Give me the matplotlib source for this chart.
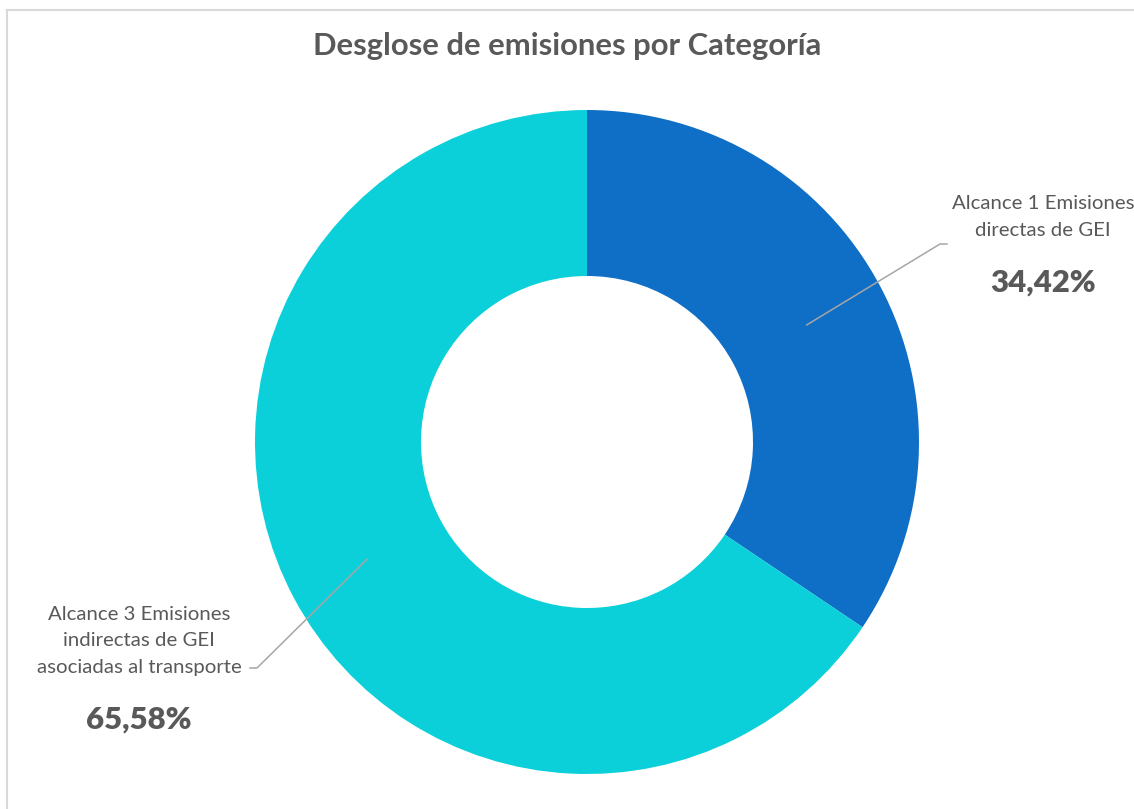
import matplotlib.pyplot as plt
import numpy as np
from matplotlib.lines import Line2D

plt.rcParams["font.family"] = ["Lato", "DejaVu Sans"]

# data
categorias = [
    "Alcance 1 Emisiones\ndirectas de GEI",
    "Alcance 3 Emisiones\nindirectas de GEI\nasociadas al transporte",
]
porcentajes = [34.42, 65.58]
colores = ["#0F6FC6", "#0BD0D9"]

W, H = 1134, 809
fig = plt.figure(figsize=(W / 100, H / 100), dpi=100)
ax = fig.add_axes([0, 0, 1, 1])

cx, cy = 587, H - 442
R = 332
wedges, _ = ax.pie(
    porcentajes,
    colors=colores,
    startangle=90,
    counterclock=False,
    radius=R,
    center=(cx, cy),
    wedgeprops=dict(width=R / 2, linewidth=0),
    frame=True,
)
ax.set_xlim(0, W)
ax.set_ylim(0, H)
ax.set_aspect("equal")
ax.axis("off")

gris = "#595959"
fig.text(0.5, 1 - 46 / H, "Desglose de emisiones por Categoría", ha="center",
         va="center", fontsize=22.3, fontweight="bold", color=gris)

# label positions (text, elbow) in pixel coords
etiquetas = [
    dict(txt=(1043, 217), pct=(1043, 283), elbow=(940, 244), end=(947, 244)),
    dict(txt=(139, 641), pct=(139, 720), elbow=(257, 668), end=(250, 668)),
]
for w, cat, p, e in zip(wedges, categorias, porcentajes, etiquetas):
    ang = np.deg2rad((w.theta1 + w.theta2) / 2)
    rm = R * 0.75
    x0, y0 = cx + rm * np.cos(ang), cy + rm * np.sin(ang)
    ax.plot([x0, e["elbow"][0], e["end"][0]],
            [y0, H - e["elbow"][1], H - e["end"][1]],
            color="#A6A6A6", lw=1.1)
    ax.text(e["txt"][0], H - e["txt"][1], cat, ha="center", va="center",
            fontsize=14.7, color=gris, linespacing=1.7)
    ax.text(e["pct"][0], H - e["pct"][1], f"{p:.2f}".replace(".", ",") + "%",
            ha="center", va="center", fontsize=22.4, fontweight="heavy", color=gris)

# chart border (top and left visible)
fig.add_artist(Line2D([6.5 / W, 1], [1 - 9.5 / H, 1 - 9.5 / H],
                      transform=fig.transFigure, color="#D9D9D9", lw=1.5))
fig.add_artist(Line2D([6.5 / W, 6.5 / W], [0, 1 - 9.5 / H],
                      transform=fig.transFigure, color="#D9D9D9", lw=1.5))

fig.savefig("out.png", dpi=100, facecolor="white")
